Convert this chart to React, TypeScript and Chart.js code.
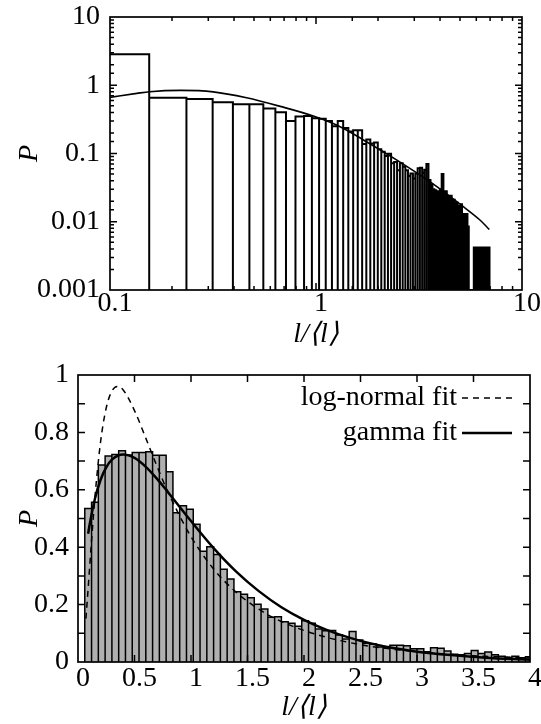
import React, { useEffect, useRef } from 'react';
import { Chart, registerables } from 'chart.js';

Chart.register(...registerables);

const FONT = '"Liberation Serif", "Times New Roman", serif';

// ---------- top panel (log-log) ----------
const topBinStart = 0.075;
const topBinWidth = 0.08;
const topHeights = [
  2.84,
  0.658, 0.629, 0.565, 0.526, 0.526, 0.456, 0.401, 0.299, 0.347, 0.354,
  0.328, 0.322, 0.30, 0.25, 0.30, 0.236, 0.21, 0.22, 0.22, 0.138,
  0.161, 0.14, 0.145, 0.115, 0.106, 0.092, 0.099, 0.072, 0.075, 0.057,
  0.072, 0.064, 0.057, 0.047, 0.051, 0.043, 0.051, 0.061, 0.062, 0.052,
  0.058, 0.070, 0.041, 0.035, 0.03, 0.029, 0.027, 0.028, 0.03, 0.05,
  0.027, 0.028, 0.024, 0.022, 0.024, 0.02, 0.021, 0.018, 0.019, 0.0125,
  0.017, 0.018, 0.0125, 0.013, 0.0085, 0.013, 0.0085, 0, 0, 0,
  0, 0.0042, 0.0042, 0.0042, 0.0042, 0.0042, 0.0042, 0.0042, 0.0042, 0,
  0.0042, 0.0042, 0, 0.0042, 0.0042,
];
const topFitX = [0.1, 0.135, 0.156, 0.22, 0.317, 0.46, 0.67, 0.97, 1.31, 1.7, 2.47, 3.57, 5.19, 6.25, 6.94];
const topFitY = [0.665, 0.76, 0.805, 0.84, 0.8, 0.655, 0.49, 0.354, 0.247, 0.158, 0.08, 0.0386, 0.0166, 0.0106, 0.0077];
const topXLabels = ['0.1', '1', '10'];
const topYLabels = ['0.001', '0.01', '0.1', '1', '10'];

// ---------- bottom panel (linear) ----------
const botBinStart = 0.06;
const botBinWidth = 0.06;
const botHeights = [
  0.535, 0.557, 0.686, 0.718, 0.723, 0.736, 0.721, 0.73, 0.73, 0.733,
  0.72, 0.72, 0.663, 0.52, 0.544, 0.532, 0.48, 0.386, 0.402, 0.375,
  0.323, 0.289, 0.245, 0.236, 0.224, 0.201, 0.185, 0.156, 0.158, 0.14,
  0.135, 0.125, 0.144, 0.135, 0.115, 0.109, 0.11, 0.094, 0.08, 0.106,
  0.077, 0.065, 0.063, 0.052, 0.05, 0.058, 0.058, 0.057, 0.046, 0.046,
  0.036, 0.05, 0.048, 0.038, 0.027, 0.025, 0.03, 0.04, 0.03, 0.035,
  0.025, 0.02, 0.016, 0.02, 0.015, 0.018,
];
const gammaX = [0.09, 0.1, 0.15, 0.2, 0.25, 0.3, 0.4, 0.5, 0.6, 0.7, 0.8, 1.0, 1.2, 1.4, 1.6, 1.8, 2.0, 2.2, 2.4, 2.6, 2.8, 3.0, 3.3, 3.6, 4.0];
const gammaY = [0.447, 0.472, 0.569, 0.635, 0.678, 0.705, 0.723, 0.711, 0.68, 0.638, 0.59, 0.491, 0.397, 0.315, 0.247, 0.191, 0.147, 0.112, 0.085, 0.064, 0.048, 0.036, 0.024, 0.015, 0.008];
const lognX = [0.07, 0.08, 0.1, 0.12, 0.15, 0.2, 0.25, 0.3, 0.35, 0.4, 0.5, 0.6, 0.7, 0.8, 1.0, 1.2, 1.4, 1.6, 1.8, 2.0, 2.2, 2.4, 2.6, 2.8, 3.0, 3.3, 3.6, 4.0];
const lognY = [0.151, 0.203, 0.313, 0.423, 0.575, 0.768, 0.886, 0.944, 0.96, 0.948, 0.876, 0.78, 0.681, 0.589, 0.437, 0.324, 0.243, 0.184, 0.141, 0.11, 0.086, 0.068, 0.054, 0.044, 0.036, 0.026, 0.02, 0.014];
const botXLabels = ['0', '0.5', '1', '1.5', '2', '2.5', '3', '3.5', '4'];
const botYLabels = ['0', '0.2', '0.4', '0.6', '0.8', '1'];
const legendLabels = ['log-normal fit', 'gamma fit'];

function histOutline(start: number, width: number, heights: number[], base: number) {
  const pts: { x: number; y: number }[] = [];
  heights.forEach((h, i) => {
    if (h <= 0) return;
    const l = start + i * width;
    const r = l + width;
    pts.push({ x: l, y: base }, { x: l, y: h }, { x: r, y: h }, { x: r, y: base });
  });
  return pts;
}

function zip(xs: number[], ys: number[]) {
  return xs.map((x, i) => ({ x, y: ys[i] }));
}

function isPow10(v: number) {
  const l = Math.log10(v);
  return Math.abs(l - Math.round(l)) < 1e-6;
}

function makeFramePlugin(cfg: { logX: boolean; logY: boolean; major: number; minor: number }) {
  return {
    id: 'frameTicks',
    afterDraw(chart: any) {
      const { ctx, chartArea: a, scales } = chart;
      ctx.save();
      ctx.strokeStyle = '#000';
      ctx.lineWidth = 1.5;
      ctx.beginPath();
      const xs = scales.x;
      const ys = scales.y;
      xs.ticks.forEach((t: any) => {
        const px = xs.getPixelForValue(t.value);
        if (px <= a.left + 1 || px >= a.right - 1) return;
        const len = cfg.logX && !isPow10(t.value) ? cfg.minor : cfg.major;
        ctx.moveTo(px, a.bottom);
        ctx.lineTo(px, a.bottom - len);
        ctx.moveTo(px, a.top);
        ctx.lineTo(px, a.top + len);
      });
      ys.ticks.forEach((t: any) => {
        const py = ys.getPixelForValue(t.value);
        if (py <= a.top + 1 || py >= a.bottom - 1) return;
        const len = cfg.logY && !isPow10(t.value) ? cfg.minor : cfg.major;
        ctx.moveTo(a.left, py);
        ctx.lineTo(a.left + len, py);
        ctx.moveTo(a.right, py);
        ctx.lineTo(a.right - len, py);
      });
      ctx.stroke();
      ctx.lineWidth = 1.7;
      ctx.strokeRect(a.left, a.top, a.right - a.left, a.bottom - a.top);
      ctx.restore();
    },
  };
}

const legendPlugin = {
  id: 'fitLegend',
  afterDatasetsDraw(chart: any) {
    const { ctx, chartArea: a } = chart;
    const items = chart.data.datasets.filter((d: any) => d.label);
    ctx.save();
    ctx.font = `28px ${FONT}`;
    ctx.fillStyle = '#000';
    ctx.textAlign = 'right';
    ctx.textBaseline = 'middle';
    items.forEach((d: any, i: number) => {
      const y = a.top + 23 + i * 35;
      ctx.fillText(d.label, a.right - 73, y);
      ctx.strokeStyle = '#000';
      ctx.lineWidth = d.borderWidth;
      ctx.setLineDash(d.borderDash || []);
      ctx.beginPath();
      ctx.moveTo(a.right - 68, y);
      ctx.lineTo(a.right - 18, y);
      ctx.stroke();
    });
    ctx.restore();
  },
};

function tickFont() {
  return { family: FONT, size: 28 };
}
function titleFont() {
  return { family: FONT, size: 28, style: 'italic' as const };
}

function topConfig(): any {
  return {
    type: 'scatter',
    data: {
      datasets: [
        {
          data: zip(topFitX, topFitY),
          showLine: true,
          borderColor: '#000',
          borderWidth: 1.6,
          pointRadius: 0,
          cubicInterpolationMode: 'monotone',
          order: 0,
        },
        {
          data: histOutline(topBinStart, topBinWidth, topHeights, 0.001),
          showLine: true,
          borderColor: '#000',
          borderWidth: 2,
          pointRadius: 0,
          tension: 0,
          order: 1,
        },
      ],
    },
    options: {
      animation: false,
      responsive: false,
      devicePixelRatio: 1,
      events: [],
      layout: { padding: { left: 0, top: 17, right: 19, bottom: 0 } },
      plugins: { legend: { display: false }, tooltip: { enabled: false } },
      scales: {
        x: {
          type: 'logarithmic',
          min: 0.1,
          max: 10,
          grid: { display: false, drawTicks: false },
          border: { display: false },
          ticks: {
            autoSkip: false,
            maxRotation: 0,
            padding: -3,
            labelOffset: 5,
            color: '#000',
            font: tickFont(),
            callback: (v: number) => (isPow10(v) ? topXLabels[Math.round(Math.log10(v)) + 1] : ''),
          },
          title: { display: true, text: 'l/⟨l⟩', color: '#000', font: titleFont(), padding: { top: 0, bottom: 11 } },
          afterFit: (s: any) => {
            s.height = 72;
            s.paddingLeft = 0;
            s.paddingRight = 0;
          },
        },
        y: {
          type: 'logarithmic',
          min: 0.001,
          max: 10,
          grid: { display: false, drawTicks: false },
          border: { display: false },
          ticks: {
            autoSkip: false,
            padding: 10,
            color: '#000',
            font: tickFont(),
            callback: (v: number) => (isPow10(v) ? topYLabels[Math.round(Math.log10(v)) + 3] : ''),
          },
          title: { display: true, text: 'P', color: '#000', font: titleFont(), padding: { top: 13, bottom: 0 } },
          afterFit: (s: any) => {
            s.width = 110;
            s.paddingTop = 0;
            s.paddingBottom = 0;
          },
        },
      },
    },
    plugins: [makeFramePlugin({ logX: true, logY: true, major: 7, minor: 4 })],
  };
}

function botConfig(): any {
  return {
    type: 'scatter',
    data: {
      datasets: [
        {
          label: legendLabels[0],
          data: zip(lognX, lognY),
          showLine: true,
          borderColor: '#000',
          borderWidth: 1.5,
          borderDash: [6, 5],
          pointRadius: 0,
          cubicInterpolationMode: 'monotone',
          order: 0,
        },
        {
          label: legendLabels[1],
          data: zip(gammaX, gammaY),
          showLine: true,
          borderColor: '#000',
          borderWidth: 2.5,
          pointRadius: 0,
          cubicInterpolationMode: 'monotone',
          order: 0,
        },
        {
          data: histOutline(botBinStart, botBinWidth, botHeights, 0),
          showLine: true,
          borderColor: '#000',
          borderWidth: 1.5,
          backgroundColor: '#b0b0b0',
          fill: 'origin',
          pointRadius: 0,
          tension: 0,
          order: 1,
        },
      ],
    },
    options: {
      animation: false,
      responsive: false,
      devicePixelRatio: 1,
      events: [],
      layout: { padding: { left: 0, top: 13, right: 11, bottom: 0 } },
      plugins: { legend: { display: false }, tooltip: { enabled: false } },
      scales: {
        x: {
          type: 'linear',
          min: 0,
          max: 4,
          grid: { display: false, drawTicks: false },
          border: { display: false },
          ticks: {
            stepSize: 0.5,
            autoSkip: false,
            maxRotation: 0,
            padding: 0,
            labelOffset: 5,
            color: '#000',
            font: tickFont(),
            callback: (_v: number, i: number) => botXLabels[i],
          },
          title: { display: true, text: 'l/⟨l⟩', color: '#000', font: titleFont(), padding: { top: 0, bottom: 0 } },
          afterFit: (s: any) => {
            s.height = 62;
            s.paddingLeft = 0;
            s.paddingRight = 0;
          },
        },
        y: {
          type: 'linear',
          min: 0,
          max: 1,
          grid: { display: false, drawTicks: false },
          border: { display: false },
          ticks: {
            stepSize: 0.1,
            autoSkip: false,
            padding: 9,
            color: '#000',
            font: tickFont(),
            callback: (v: number) => {
              const k = Math.round(v * 10);
              return k % 2 === 0 ? botYLabels[k / 2] : '';
            },
          },
          title: { display: true, text: 'P', color: '#000', font: titleFont(), padding: { top: 13, bottom: 0 } },
          afterFit: (s: any) => {
            s.width = 78;
            s.paddingTop = 0;
            s.paddingBottom = 0;
          },
        },
      },
    },
    plugins: [makeFramePlugin({ logX: false, logY: false, major: 7, minor: 4 }), legendPlugin],
  };
}

export default function App() {
  const topRef = useRef<HTMLCanvasElement>(null);
  const botRef = useRef<HTMLCanvasElement>(null);

  useEffect(() => {
    Chart.defaults.font.family = FONT;
    const c1 = new Chart(topRef.current as HTMLCanvasElement, topConfig());
    const c2 = new Chart(botRef.current as HTMLCanvasElement, botConfig());
    return () => {
      c1.destroy();
      c2.destroy();
    };
  }, []);

  return (
    <div style={{ position: 'fixed', left: 0, top: 0, width: 541, height: 724, background: '#fff' }}>
      <canvas ref={topRef} width={541} height={362} style={{ position: 'absolute', left: 0, top: 0, width: 541, height: 362 }} />
      <canvas ref={botRef} width={541} height={362} style={{ position: 'absolute', left: 0, top: 362, width: 541, height: 362 }} />
    </div>
  );
}
